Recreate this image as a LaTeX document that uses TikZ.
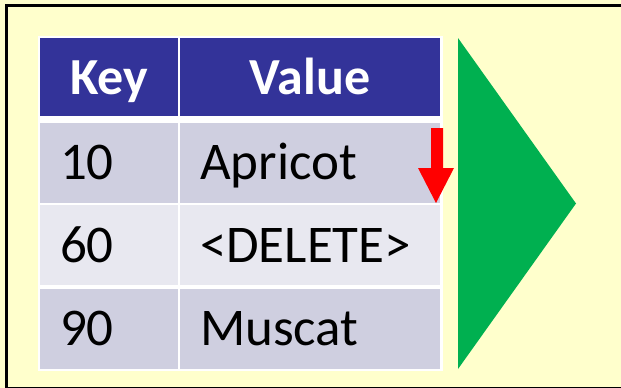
\documentclass[tikz,border=0pt]{standalone}
\usepackage{fontspec}
\setmainfont{Carlito}
\definecolor{pageyellow}{HTML}{FFFFCC}
\definecolor{hdrblue}{HTML}{333399}
\definecolor{rowdark}{HTML}{CFCFE0}
\definecolor{rowlight}{HTML}{E8E8F0}
\definecolor{okgreen}{HTML}{00B050}
\begin{document}
\begin{tikzpicture}[x=1pt, y=-1pt,
    cell/.style={rectangle, inner xsep=20pt, inner ysep=0pt, text height=34pt, text depth=0pt,
      font=\fontsize{53}{62}\selectfont, align=left, minimum height=80pt},
    keycell/.style={cell, minimum width=138pt, text width=98pt},
    valcell/.style={cell, minimum width=260pt, text width=220pt},
    hdr/.style={fill=hdrblue, text=white, font=\fontsize{52}{62}\selectfont\bfseries, align=center, minimum height=78pt}]
      \useasboundingbox (0,0) rectangle (621,388);
      \begin{scope}
        \clip (0,0) rectangle (621,388);
        \fill[pageyellow] (0,0) rectangle (621,388);
        \draw[line width=3pt] (6.5,5.5) rectangle (660,388.5);
      \end{scope}
      \fill[white] (38,36) rectangle (443,371);
      \node[keycell, hdr] (hkey) at (109,77){Key};
      \node[valcell, hdr] (hval) at (310,77){Value};
      \node[keycell, fill=rowdark] (k1) at (109,162.5){10};
      \node[valcell, fill=rowdark] (v1) at (310,162.5){Apricot};
      \node[keycell, fill=rowlight] (k2) at (109,245){60};
      \node[valcell, fill=rowlight] (v2) at (310,245){<DELETE>};
      \node[keycell, fill=rowdark] (k3) at (109,328.5){90};
      \node[valcell, fill=rowdark] (v3) at (310,328.5){Muscat};
      % red arrow pointing down
      \fill[red] (431,128) -- (443,128) -- (443,168) -- (454,168) -- (436,203)
        -- (418,168) -- (431,168) -- cycle;
      % green triangle
      \fill[okgreen] (458,38) -- (576,203.5) -- (458,369) -- cycle;
    \end{tikzpicture}
\end{document}
